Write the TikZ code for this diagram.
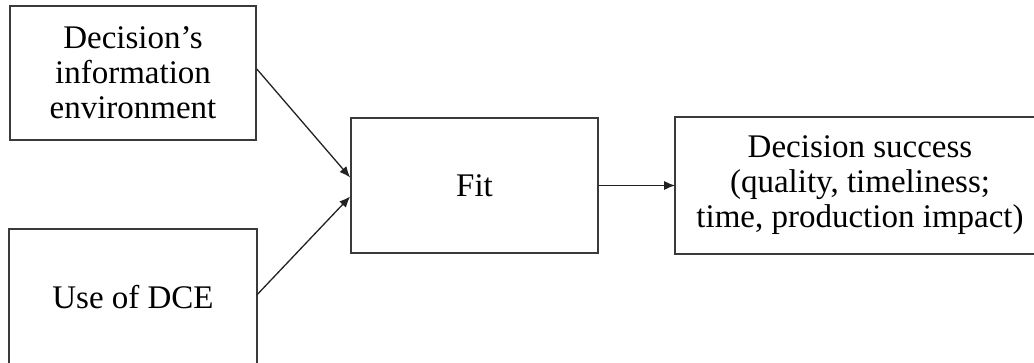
\documentclass[tikz,border=0pt]{standalone}
\usepackage{fontspec}
\setmainfont{Liberation Serif}
\usetikzlibrary{arrows.meta}

\tikzset{
  factor/.style={draw=boxgrey,line width=1.6pt,inner sep=0pt,align=center,
    font=\fontsize{33}{35}\selectfont},
  link/.style={draw=arrowgrey,line width=1.3pt,-{Latex[length=11pt,width=9pt]}}
}

\begin{document}
\begin{tikzpicture}[x=1pt,y=1pt]
  \definecolor{boxgrey}{HTML}{3A3A3A}
  \definecolor{arrowgrey}{HTML}{222222}

  \useasboundingbox (0,0) rectangle (1034,362);

  % the two inputs, the fit and the outcome
  \node[factor,minimum width=246pt,minimum height=134pt] (environment) at (133,289)
    {Decision’s\\information\\environment};
  \node[factor,draw=none,minimum width=246pt,minimum height=134pt] (dceuse) at (133,65)
    {Use of DCE};
  \node[factor,minimum width=247pt,minimum height=135pt] (fit) at (474.5,176.5)
    {Fit};
  \node[factor,draw=none,minimum width=368pt,minimum height=135pt] (success) at (860,176.5)
    {Decision success\\(quality, timeliness;\\time, production impact)};

  % boxes cut off by the lower and the right margin
  \draw[boxgrey,line width=1.6pt] (dceuse.south west) -- (dceuse.north west)
    -- (dceuse.north east) -- (dceuse.south east);
  \draw[boxgrey,line width=1.6pt] (1040,0 |- success.north) -- (success.north west)
    -- (success.south west) -- (1040,0 |- success.south);

  \draw[link] ([yshift=4pt]environment.east) -- ([yshift=8pt]fit.west);
  \draw[link] ([yshift=2pt]dceuse.east) -- ([yshift=-11pt]fit.west);
  \draw[link] (fit.east) -- (success.west);
\end{tikzpicture}
\end{document}
